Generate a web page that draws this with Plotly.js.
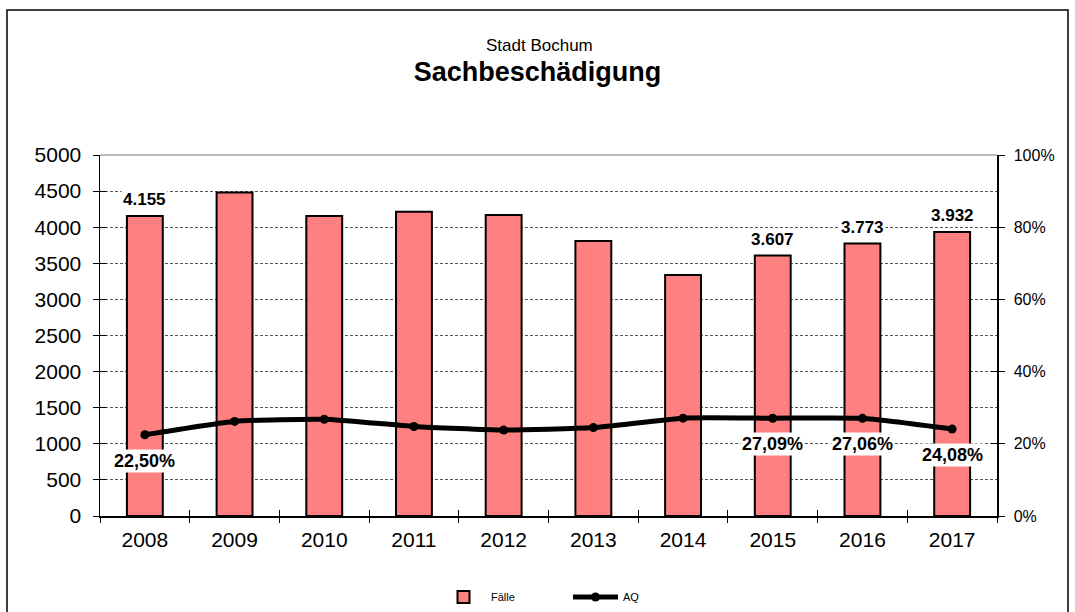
<!DOCTYPE html>
<html>
<head>
<meta charset="utf-8">
<script src="https://cdn.plot.ly/plotly-3.0.1.min.js"></script>
<style>html,body{margin:0;padding:0;background:#fff;}#chart{width:1075px;height:612px;}</style>
</head>
<body>
<div id="chart"></div>
<script>
// ---- data ----
const years = [2008, 2009, 2010, 2011, 2012, 2013, 2014, 2015, 2016, 2017];
const faelle = [4155, 4480, 4155, 4215, 4169, 3809, 3338, 3607, 3773, 3932];
const aq = [22.50, 26.2, 26.8, 24.8, 23.8, 24.5, 27.1, 27.09, 27.06, 24.08];
const showBarLabel = [true, false, false, false, false, false, false, true, true, true];
const showAqLabel = [true, false, false, false, false, false, false, true, true, true];
const titleTop = 'Stadt Bochum';
const titleMain = 'Sachbeschädigung';
const seriesNames = ['Fälle', 'AQ'];

const FONT = 'Liberation Sans, Arial, sans-serif';
const fmtInt = v => String(v).replace(/\B(?=(\d{3})+(?!\d))/g, '.');
const fmtPct = v => v.toFixed(2).replace('.', ',') + '%';

const xRange = [years[0] - 0.5, years[years.length - 1] + 0.5];
const edgeTicks = years.map(y => y - 0.5).concat([years[years.length - 1] + 0.5]);

const traces = [
  {
    type: 'bar', name: seriesNames[0], x: years, y: faelle, width: 0.4,
    marker: {color: '#FF8080', line: {color: '#000', width: 2}},
    hoverinfo: 'x+y'
  },
  {
    type: 'scatter', mode: 'lines+markers', name: seriesNames[1], x: years, y: aq, yaxis: 'y2',
    line: {color: '#000', width: 5, shape: 'spline', smoothing: 0.5},
    marker: {color: '#000', size: 9}
  },
  // invisible helpers so the overlay tick axes get drawn
  {type: 'scatter', x: [years[0]], y: [0], xaxis: 'x2', yaxis: 'y3', mode: 'markers', marker: {opacity: 0}, showlegend: false, hoverinfo: 'skip'},
  {type: 'scatter', x: [years[0]], y: [0], xaxis: 'x3', yaxis: 'y4', mode: 'markers', marker: {opacity: 0}, showlegend: false, hoverinfo: 'skip'}
];

const annotations = [
  {text: titleTop, xref: 'paper', yref: 'paper', x: 0.4905, y: (516-45)/361, xanchor: 'center', yanchor: 'middle',
   showarrow: false, font: {family: FONT, size: 17, color: '#000'}}
];
years.forEach((yr, i) => {
  if (showBarLabel[i]) {
    annotations.push({text: '<b>' + fmtInt(faelle[i]) + '</b>', x: yr, y: faelle[i], xref: 'x', yref: 'y',
      showarrow: false, yanchor: 'bottom', yshift: 5, bgcolor: '#fff', borderpad: 1,
      font: {family: FONT, size: 17, color: '#000'}});
  }
  if (showAqLabel[i]) {
    annotations.push({text: '<b>' + fmtPct(aq[i]) + '</b>', x: yr, y: aq[i], xref: 'x', yref: 'y2',
      showarrow: false, yanchor: 'top', yshift: -14, bgcolor: '#fff', borderpad: 1,
      font: {family: FONT, size: 18, color: '#000'}});
  }
});

const tickAxis = (extra) => Object.assign({
  overlaying: 'x', anchor: 'y', range: xRange, tickmode: 'array', tickvals: edgeTicks, ticklen: 6,
  tickcolor: '#000', tickwidth: 1, showticklabels: false, showgrid: false, zeroline: false, showline: false
}, extra);

const layout = {
  width: 1075, height: 612,
  margin: {l: 100, r: 78, t: 155, b: 96, pad: 0, autoexpand: false},
  paper_bgcolor: '#fff', plot_bgcolor: '#fff',
  font: {family: FONT, color: '#000'},
  title: {text: '<b>' + titleMain + '</b>', x: 0.5, xanchor: 'center', y: 1 - 72/612, yanchor: 'middle',
          font: {family: FONT, size: 27, color: '#000'}},
  showlegend: true,
  legend: {orientation: 'h', x: (436-100)/897, xanchor: 'left', y: -(597-516)/361, yanchor: 'middle',
           font: {family: FONT, size: 11, color: '#000'}, bgcolor: 'rgba(0,0,0,0)', itemwidth: 45,
           entrywidth: 72, entrywidthmode: 'pixels'},
  xaxis: {
    range: xRange, tickmode: 'array', tickvals: years, ticktext: years.map(String), ticks: '',
    showline: true, linecolor: '#000', linewidth: 1.5, showgrid: false, zeroline: false, automargin: false,
    tickfont: {family: FONT, size: 21, color: '#000'}, ticklabelstandoff: 4
  },
  xaxis2: tickAxis({ticks: 'outside'}),
  xaxis3: tickAxis({ticks: 'inside'}),
  yaxis: {
    range: [0, 5000], dtick: 500, ticks: 'outside', ticklen: 6, tickcolor: '#000', tickwidth: 1,
    showline: true, linecolor: '#000', linewidth: 1.5, zeroline: false, automargin: false,
    showgrid: true, gridcolor: '#555', gridwidth: 1, griddash: '3px,2px',
    tickfont: {family: FONT, size: 21, color: '#000'}, ticklabelstandoff: 7
  },
  yaxis3: {
    overlaying: 'y', anchor: 'x', side: 'left', range: [0, 5000], dtick: 500, ticks: 'inside', ticklen: 6,
    tickcolor: '#000', tickwidth: 1, showticklabels: false, showgrid: false, zeroline: false, showline: false
  },
  yaxis2: {
    overlaying: 'y', side: 'right', anchor: 'x', range: [0, 100], dtick: 20, ticksuffix: '%',
    ticks: 'outside', ticklen: 6, tickcolor: '#000', tickwidth: 1, automargin: false,
    showline: true, linecolor: '#000', linewidth: 1.5, showgrid: false, zeroline: false,
    tickfont: {family: FONT, size: 16, color: '#000'}, ticklabelstandoff: 6
  },
  yaxis4: {
    overlaying: 'y', anchor: 'x', side: 'right', range: [0, 100], dtick: 20, ticks: 'inside', ticklen: 6,
    tickcolor: '#000', tickwidth: 1, showticklabels: false, showgrid: false, zeroline: false, showline: false
  },
  shapes: [
    {type: 'line', xref: 'paper', yref: 'paper', x0: 0, x1: 1, y0: 1, y1: 1, line: {color: '#777', width: 1}},
    {type: 'rect', xref: 'paper', yref: 'paper', x0: (7-100)/897, x1: (1068-100)/897, y0: (516-640)/361, y1: (516-10)/361,
     line: {color: '#000', width: 1.5}, fillcolor: 'rgba(0,0,0,0)', layer: 'below'}
  ],
  annotations: annotations
};

Plotly.newPlot('chart', traces, layout, {displayModeBar: false, staticPlot: true});
</script>
</body>
</html>
